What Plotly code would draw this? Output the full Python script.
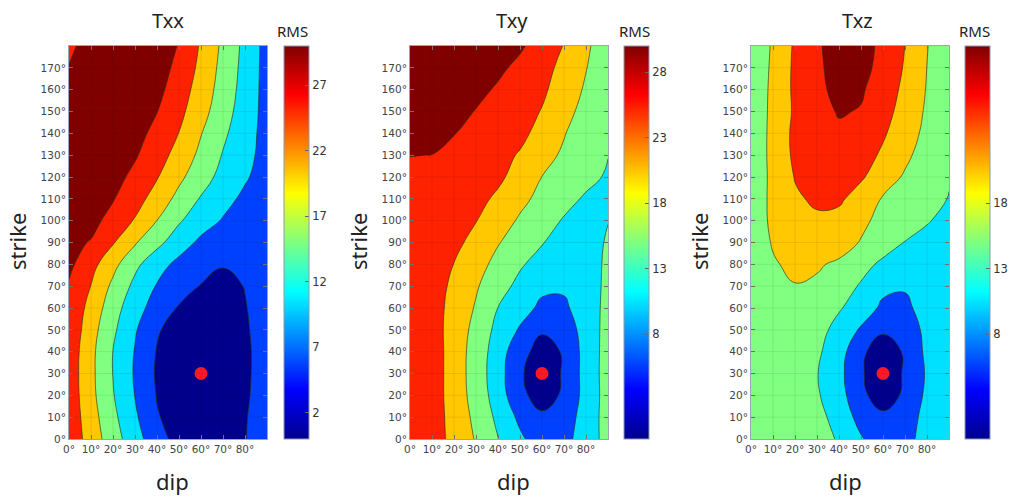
import plotly.graph_objects as go

# ---------------- data ----------------
dip = [0, 10, 20, 30, 40, 50, 60, 70, 80, 90]
strike = [0, 10, 20, 30, 40, 50, 60, 70, 80, 90, 100, 110, 120, 130, 140, 150, 160, 170, 180]

# RMS grids, one row per strike value (0 .. 180), one column per dip value (0 .. 90)
rms_txx = [
    [26.0, 20.3, 14.7, 9.5, 4.4, 0.8, 1.0, 1.2, 2.4, 4.0],
    [25.8, 19.6, 13.7, 8.3, 2.8, 0.9, 0.6, 0.8, 2.3, 4.0],
    [25.6, 18.9, 12.8, 7.4, 2.3, 0.6, 0.2, 0.4, 2.0, 4.2],
    [25.5, 18.7, 12.4, 7.0, 1.9, 0.4, 0.0, 0.2, 1.8, 4.3],
    [25.7, 18.8, 12.45, 7.25, 2.25, 0.6, 0.1, 0.3, 1.9, 4.0],
    [26.4, 19.5, 13.4, 8.0, 3.0, 0.5, 0.3, 0.5, 2.1, 4.0],
    [26.5, 20.8, 14.6, 9.4, 5.4, 2.1, 1.6, 1.5, 2.4, 3.4],
    [27.0, 22.4, 16.4, 11.3, 7.15, 4.6, 2.3, 2.0, 2.56, 3.8],
    [28.6, 24.2, 19.0, 13.6, 9.6, 6.1, 4.0, 2.6, 3.5, 4.6],
    [28.8, 27.2, 22.9, 18.0, 13.75, 10.0, 6.4, 3.8, 4.5, 5.2],
    [29.8, 29.0, 25.8, 22.1, 17.45, 13.0, 9.85, 7.1, 6.0, 5.4],
    [29.6, 29.0, 27.8, 24.4, 20.5, 16.0, 12.1, 9.2, 6.4, 5.5],
    [29.5, 29.7, 29.2, 26.3, 22.8, 18.6, 14.5, 11.0, 8.1, 5.2],
    [29.0, 29.6, 29.4, 28.0, 24.6, 20.7, 16.3, 12.2, 9.0, 5.7],
    [28.8, 29.4, 29.7, 29.2, 26.1, 22.4, 17.7, 13.4, 9.5, 5.8],
    [28.5, 29.3, 29.5, 29.0, 27.6, 23.8, 19.3, 14.6, 10.1, 5.8],
    [28.0, 29.0, 29.6, 29.6, 28.9, 24.9, 20.4, 15.4, 10.6, 5.7],
    [27.6, 28.8, 29.6, 29.8, 29.5, 26.3, 21.2, 16.0, 10.9, 5.7],
    [27.0, 28.5, 29.5, 29.8, 29.5, 27.3, 21.9, 16.5, 11.2, 5.7],
]

rms_txy = [
    [25.2, 24.7, 21.1, 17.1, 12.6, 8.4, 4.7, 5.8, 10.1, 14.1],
    [25.3, 24.8, 20.8, 16.3, 11.4, 6.4, 3.2, 4.6, 9.9, 14.3],
    [25.4, 24.9, 20.4, 15.5, 10.2, 3.5, 0.8, 3.1, 9.4, 14.4],
    [25.4, 25.0, 20.3, 15.2, 9.7, 3.0, 0.3, 2.9, 9.5, 14.5],
    [25.4, 25.0, 20.3, 15.35, 10.1, 4.0, 0.8, 2.9, 9.5, 14.4],
    [25.0, 24.6, 20.5, 16.0, 11.1, 7.0, 3.0, 5.0, 9.3, 14.4],
    [24.8, 24.4, 21.0, 17.05, 12.45, 9.4, 6.5, 7.0, 9.0, 14.4],
    [25.0, 24.5, 21.6, 18.0, 14.5, 11.15, 8.5, 7.9, 9.2, 14.0],
    [24.2, 23.6, 22.45, 19.3, 16.1, 13.1, 10.5, 9.0, 9.8, 13.55],
    [24.6, 24.0, 23.8, 20.9, 17.8, 15.25, 12.75, 10.7, 10.4, 13.0],
    [25.2, 24.6, 24.0, 22.65, 19.7, 16.9, 14.45, 12.1, 11.0, 12.4],
    [25.8, 25.2, 24.6, 24.0, 21.6, 18.7, 16.2, 14.0, 11.9, 10.8],
    [26.3, 25.6, 24.9, 24.0, 23.5, 20.5, 17.45, 15.65, 13.8, 11.95],
    [27.6, 27.45, 26.1, 24.9, 23.6, 22.2, 19.3, 16.7, 14.6, 12.6],
    [29.6, 29.1, 27.65, 26.2, 24.7, 23.4, 21.3, 17.8, 14.6, 12.7],
    [29.8, 29.5, 29.0, 27.3, 25.7, 24.1, 22.3, 19.1, 15.9, 12.9],
    [29.9, 29.8, 29.4, 28.8, 26.9, 25.0, 23.2, 20.6, 16.8, 13.0],
    [30.0, 29.9, 29.6, 29.1, 28.5, 26.3, 24.0, 21.3, 17.7, 13.7],
    [30.0, 30.0, 29.8, 29.5, 29.0, 28.2, 25.3, 22.3, 18.4, 14.4],
]

rms_txz = [
    [14.0, 14.7, 14.8, 15.05, 11.9, 7.9, 5.0, 6.0, 9.3, 10.2],
    [14.0, 14.7, 14.6, 14.4, 10.2, 6.0, 3.2, 4.6, 9.4, 10.0],
    [14.1, 14.6, 14.4, 13.0, 9.7, 3.3, 0.8, 3.1, 8.6, 9.6],
    [14.2, 14.6, 14.3, 12.7, 9.0, 2.9, 0.3, 2.9, 8.1, 9.5],
    [14.3, 14.8, 14.5, 13.3, 9.8, 3.2, 0.6, 2.9, 8.65, 9.8],
    [14.4, 15.1, 15.0, 14.5, 10.65, 6.95, 3.0, 5.0, 8.6, 9.5],
    [14.5, 15.6, 16.0, 15.2, 13.0, 9.95, 6.6, 6.8, 8.8, 9.0],
    [14.5, 16.2, 17.3, 16.8, 14.6, 12.05, 8.6, 7.8, 8.2, 8.0],
    [14.4, 17.0, 18.6, 18.0, 16.75, 14.0, 11.6, 9.6, 8.6, 8.0],
    [14.3, 17.9, 19.8, 20.3, 19.6, 17.2, 14.6, 12.35, 10.0, 8.5],
    [14.2, 18.6, 20.8, 21.8, 21.0, 18.6, 16.0, 14.5, 13.1, 10.1],
    [14.0, 18.8, 21.9, 23.2, 23.3, 20.4, 17.1, 15.0, 13.5, 12.4],
    [13.8, 18.8, 22.7, 23.9, 24.2, 23.1, 19.9, 16.9, 14.6, 12.7],
    [13.7, 19.0, 23.4, 24.9, 25.5, 24.6, 21.7, 18.6, 15.2, 12.8],
    [13.6, 19.0, 23.6, 25.5, 26.6, 26.2, 23.1, 19.7, 16.3, 13.0],
    [13.4, 18.9, 23.2, 25.7, 27.9, 27.2, 24.2, 20.7, 16.8, 13.2],
    [13.3, 18.75, 23.4, 26.4, 28.8, 28.1, 25.0, 21.45, 17.2, 13.4],
    [13.1, 18.5, 23.4, 26.8, 29.0, 29.0, 26.0, 22.05, 17.45, 13.5],
    [13.1, 18.15, 23.2, 26.9, 29.5, 29.5, 26.3, 22.45, 17.7, 13.7],
]

panel_titles = ["Txx", "Txy", "Txz"]
panel_data = [rms_txx, rms_txy, rms_txz]
cbar_ticks = [[2, 7, 12, 17, 22, 27], [8, 13, 18, 23, 28], [8, 13, 18]]

best_dip = [60]
best_strike = [30]

x_ticks = [0, 10, 20, 30, 40, 50, 60, 70, 80]
y_ticks = [0, 10, 20, 30, 40, 50, 60, 70, 80, 90, 100, 110, 120, 130, 140, 150, 160, 170]

# ---------------- styling ----------------
W, H = 1012, 498
band_colors = ["#00008c", "#0040ff", "#00e0ff", "#80ff80", "#ffc800", "#ff2200", "#800000"]
fill_scale = [[i / (len(band_colors) - 1), c] for i, c in enumerate(band_colors)]
jet = [[0.0, "#00008f"], [0.125, "#0000ff"], [0.375, "#00ffff"],
       [0.625, "#ffff00"], [0.875, "#ff0000"], [1.0, "#800000"]]

plot_left_px = [69, 410, 751]
plot_w_px = 198
plot_top_px, plot_bot_px = 46, 439
cbar_left_px = [284, 624, 965]
title_x_px = [168, 512, 857]
rms_x_px = [292, 634, 974]
strike_x_px = [17, 358, 699]
dip_x_px = [172, 513, 845]

y_dom = [1 - plot_bot_px / H, 1 - plot_top_px / H]

fig = go.Figure()
shapes = []
annotations = []
for i in range(3):
    ax = "" if i == 0 else str(i + 1)
    xa, ya = "x" + ax, "y" + ax
    fig.add_trace(go.Contour(
        x=dip, y=strike, z=panel_data[i],
        xaxis=xa, yaxis=ya,
        autocontour=False,
        contours=dict(start=2.5, end=27.5, size=5, coloring="fill", showlines=True),
        colorscale=fill_scale, showscale=False,
        line=dict(color="rgba(45,45,20,0.9)", width=0.7, smoothing=1.3),
        hoverinfo="skip",
    ))
    # colour bar (continuous jet, like the reference)
    fig.add_trace(go.Scatter(
        x=best_dip, y=best_strike, xaxis=xa, yaxis=ya, mode="markers",
        marker=dict(size=1, opacity=0, color=[0], cmin=0, cmax=30, colorscale=jet,
                    showscale=True,
                    colorbar=dict(
                        x=cbar_left_px[i] / W, xanchor="left", xpad=0, ypad=0,
                        y=(y_dom[0] + y_dom[1]) / 2, yanchor="middle",
                        len=(plot_bot_px - plot_top_px) / H, lenmode="fraction",
                        thickness=25, thicknessmode="pixels",
                        outlinewidth=1, outlinecolor="#8d99ab",
                        tickvals=cbar_ticks[i], ticks="inside", ticklen=4,
                        tickcolor="#666", tickfont=dict(size=11.5, color="#333",
                                                        family="DejaVu Sans"),
                    )),
        showlegend=False, hoverinfo="skip",
    ))
    fig.add_trace(go.Scatter(
        x=best_dip, y=best_strike, xaxis=xa, yaxis=ya, mode="markers",
        marker=dict(size=13, color="rgb(255,25,40)"),
        showlegend=False, hoverinfo="skip",
    ))
    x0 = plot_left_px[i] / W
    axis_common = dict(showgrid=False, zeroline=False, ticks="inside", ticklen=4,
                       tickcolor="#777", mirror="allticks", showline=True,
                       linecolor="#9aa6b8", linewidth=1, layer="above traces",
                       tickmode="array",
                       tickfont=dict(size=10.5, color="#444", family="DejaVu Sans"))
    fig.update_layout(**{
        "xaxis" + ax: dict(domain=[x0, x0 + plot_w_px / W], range=[0, 90],
                           tickvals=x_ticks, ticktext=[f"{v}°" for v in x_ticks],
                           anchor=ya, **axis_common),
        "yaxis" + ax: dict(domain=y_dom, range=[0, 180], tickvals=y_ticks,
                           ticktext=[f"{v}°" for v in y_ticks],
                           anchor=xa, **axis_common),
    })
    for t in x_ticks[1:]:
        shapes.append(dict(type="line", xref=xa, yref=ya, x0=t, x1=t, y0=0, y1=180,
                           line=dict(color="rgba(0,0,0,0.07)", width=1), layer="above"))
    for t in y_ticks[1:]:
        shapes.append(dict(type="line", xref=xa, yref=ya, x0=0, x1=90, y0=t, y1=t,
                           line=dict(color="rgba(0,0,0,0.07)", width=1), layer="above"))
    annotations += [
        dict(text=panel_titles[i], x=title_x_px[i] / W, y=1 - 20 / H, xref="paper",
             yref="paper", showarrow=False, xanchor="center", yanchor="middle",
             font=dict(size=20, color="#222", family="Noto Sans")),
        dict(text="RMS", x=rms_x_px[i] / W, y=1 - 31 / H, xref="paper", yref="paper",
             showarrow=False, xanchor="center", yanchor="middle",
             font=dict(size=15, color="#222", family="Noto Sans")),
        dict(text="strike", x=strike_x_px[i] / W, y=1 - 242 / H, xref="paper",
             yref="paper", showarrow=False, textangle=-90, xanchor="center",
             yanchor="middle", font=dict(size=22, color="#222", family="Noto Sans")),
        dict(text="dip", x=dip_x_px[i] / W, y=1 - 481 / H, xref="paper", yref="paper",
             showarrow=False, xanchor="center", yanchor="middle",
             font=dict(size=22, color="#222", family="Noto Sans")),
    ]

fig.update_layout(width=W, height=H,
                  margin=dict(l=0, r=0, t=0, b=0, autoexpand=False),
                  paper_bgcolor="white", plot_bgcolor="white", showlegend=False,
                  shapes=shapes, annotations=annotations)

fig.write_html("out.html",
               config={"displayModeBar": False},
               post_script="document.body.style.margin='0';"
                           "document.body.style.padding='0';"
                           "document.body.style.overflow='hidden';")
